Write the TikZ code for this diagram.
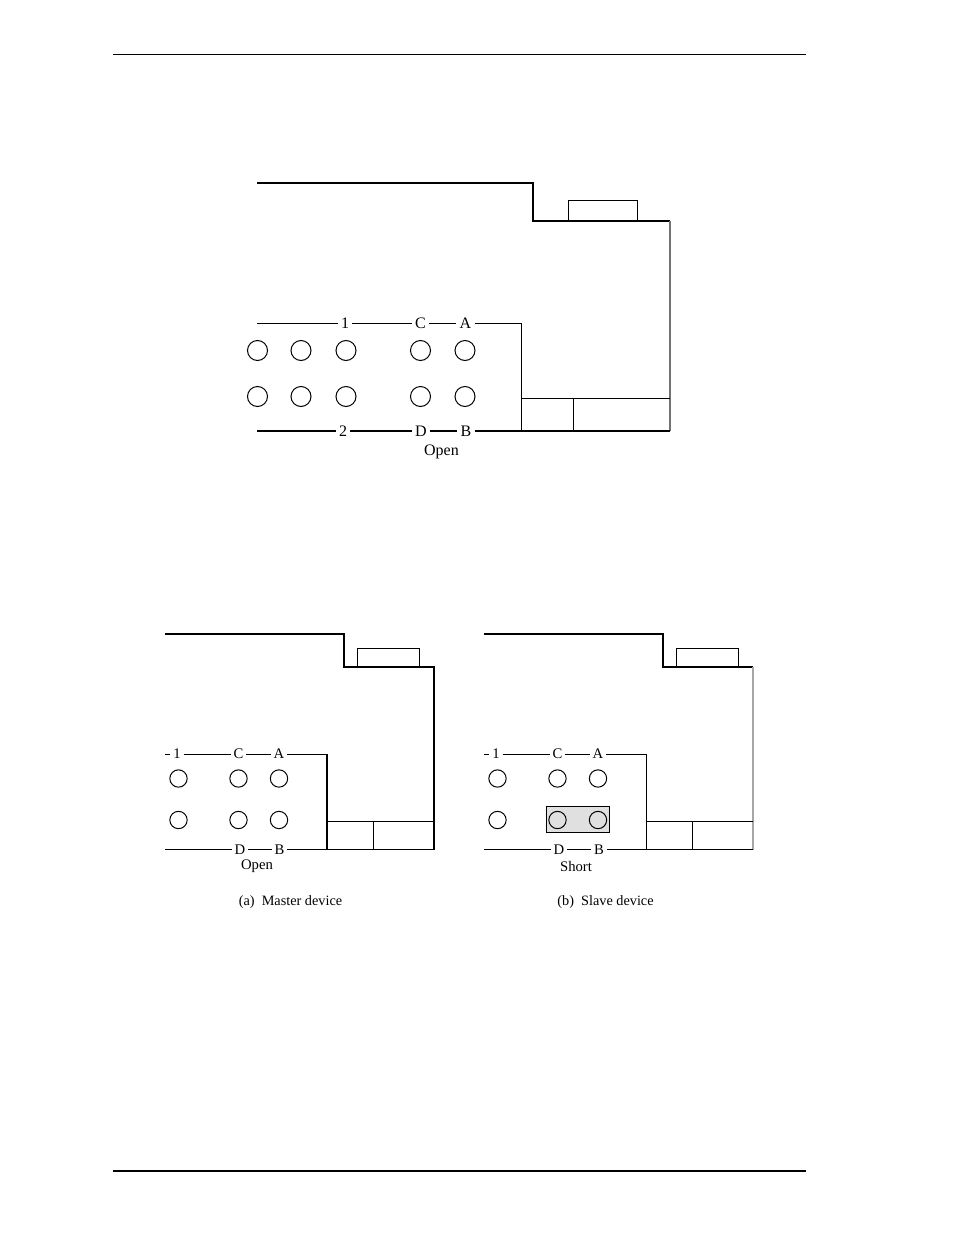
\documentclass[tikz,border=0pt]{standalone}
\usepackage{fontspec}
\setmainfont{Liberation Serif}
\tikzset{
	thinline/.style={black, line width=0.75pt},
	heavyline/.style={black, line width=1.2pt},
	pin/.style={draw, circle, line width=0.75pt, minimum size=#1, inner sep=0pt},
	pin/.default=13pt,
	toplabel/.style={fill=white, inner sep=2.5pt, font=\fontsize{12}{12}\selectfont},
	lowlabel/.style={fill=white, inner sep=2.2pt, font=\fontsize{11}{11}\selectfont},
	caption/.style={inner sep=0pt, font=\fontsize{10.7}{10.7}\selectfont}
}
\begin{document}
\begin{tikzpicture}[x=0.75pt, y=-0.75pt]
	\useasboundingbox (0,0) rectangle (954,1235);
	% page rules
	\draw[thinline] (113,54.5) -- (806,54.5);
	\draw[black, line width=1.5pt] (113,1171) -- (806,1171);
	% upper drive
	\draw[heavyline] (257,183) -- (533,183) -- (533,221) -- (670,221);
	\draw[black!55, line width=1.3pt] (670,221) -- (670,431);
	\draw[heavyline] (257,431) -- (670,431);
	\draw[thinline] (568,221) -- (568,200.5) -- (637.5,200.5) -- (637.5,221);
	\draw[thinline] (257,323.5) -- (521.5,323.5) -- (521.5,431);
	\draw[thinline] (521.5,398.5) -- (670,398.5);
	\draw[thinline] (573.5,398.5) -- (573.5,431);
	\node[pin=15pt] (upin1) at (257.5,350.5) {};
	\node[pin=15pt] (upin2) at (301,350.5) {};
	\node[pin=15pt] (upin3) at (346,350.5) {};
	\node[pin=15pt] (upin4) at (420.5,350.5) {};
	\node[pin=15pt] (upin5) at (465,350.5) {};
	\node[pin=15pt] (upin6) at (257.5,396.5) {};
	\node[pin=15pt] (upin7) at (301,396.5) {};
	\node[pin=15pt] (upin8) at (346,396.5) {};
	\node[pin=15pt] (upin9) at (420.5,396.5) {};
	\node[pin=15pt] (upin10) at (465,396.5) {};
	\node[toplabel] (ulab1) at (345,323.5) {1};
	\node[toplabel] (ulabC) at (420.5,323.5) {C};
	\node[toplabel] (ulabA) at (465.5,323.5) {A};
	\node[toplabel] (ulab2) at (343,431) {2};
	\node[toplabel] (ulabD) at (421,431) {D};
	\node[toplabel] (ulabB) at (466,431) {B};
	\node[toplabel, fill=none] (uopen) at (441.5,451.5) {Open};
	% master device
	\draw[heavyline] (165,634) -- (344,634) -- (344,667) -- (434,667) -- (434,849.5) -- (165,849.5);
	\draw[thinline] (357.5,667) -- (357.5,648.5) -- (419.5,648.5) -- (419.5,667);
	\draw[thinline] (165,754) -- (327,754);
	\draw[heavyline] (327,754) -- (327,849.5);
	\draw[thinline] (327,821.5) -- (434,821.5);
	\draw[thinline] (373.5,821.5) -- (373.5,849.5);
	\node[pin] (mpin1) at (178.5,778.5) {};
	\node[pin] (mpin2) at (238.5,778.5) {};
	\node[pin] (mpin3) at (279,778.5) {};
	\node[pin] (mpin4) at (178.5,820) {};
	\node[pin] (mpin5) at (238.5,820) {};
	\node[pin] (mpin6) at (279,820) {};
	\node[lowlabel] (mlab1) at (177,754) {1};
	\node[lowlabel] (mlabC) at (238.5,754) {C};
	\node[lowlabel] (mlabA) at (279,754) {A};
	\node[lowlabel] (mlabD) at (240,850) {D};
	\node[lowlabel] (mlabB) at (279.5,850) {B};
	\node[lowlabel, fill=none] (mopen) at (257,866.5) {Open};
	\node[caption] (mcap) at (290.5,902) {(a)\ \ Master device};
	% slave device
	\draw[heavyline] (484,634) -- (663,634) -- (663,667) -- (753,667);
	\draw[black!35, line width=1.1pt] (753,667) -- (753,849.5);
	\draw[heavyline] (484,849.5) -- (753,849.5);
	\draw[thinline] (676.5,667) -- (676.5,648.5) -- (738.5,648.5) -- (738.5,667);
	\draw[thinline] (484,754) -- (646,754) -- (646,849.5);
	\draw[thinline] (646,821.5) -- (753,821.5);
	\draw[thinline] (692.5,821.5) -- (692.5,849.5);
	\draw[thinline, fill=black!12] (546,806.5) rectangle (609.5,832.5);
	\node[pin] (spin1) at (497.5,778.5) {};
	\node[pin] (spin2) at (557.5,778.5) {};
	\node[pin] (spin3) at (598,778.5) {};
	\node[pin] (spin4) at (497.5,820) {};
	\node[pin] (spin5) at (557.5,820) {};
	\node[pin] (spin6) at (598,820) {};
	\node[lowlabel] (slab1) at (496,754) {1};
	\node[lowlabel] (slabC) at (557.5,754) {C};
	\node[lowlabel] (slabA) at (598,754) {A};
	\node[lowlabel] (slabD) at (559,850) {D};
	\node[lowlabel] (slabB) at (599,850) {B};
	\node[lowlabel, fill=none] (sshort) at (576,866.5) {Short};
	\node[caption] (scap) at (605.5,902) {(b)\ \ Slave device};
\end{tikzpicture}
\end{document}
